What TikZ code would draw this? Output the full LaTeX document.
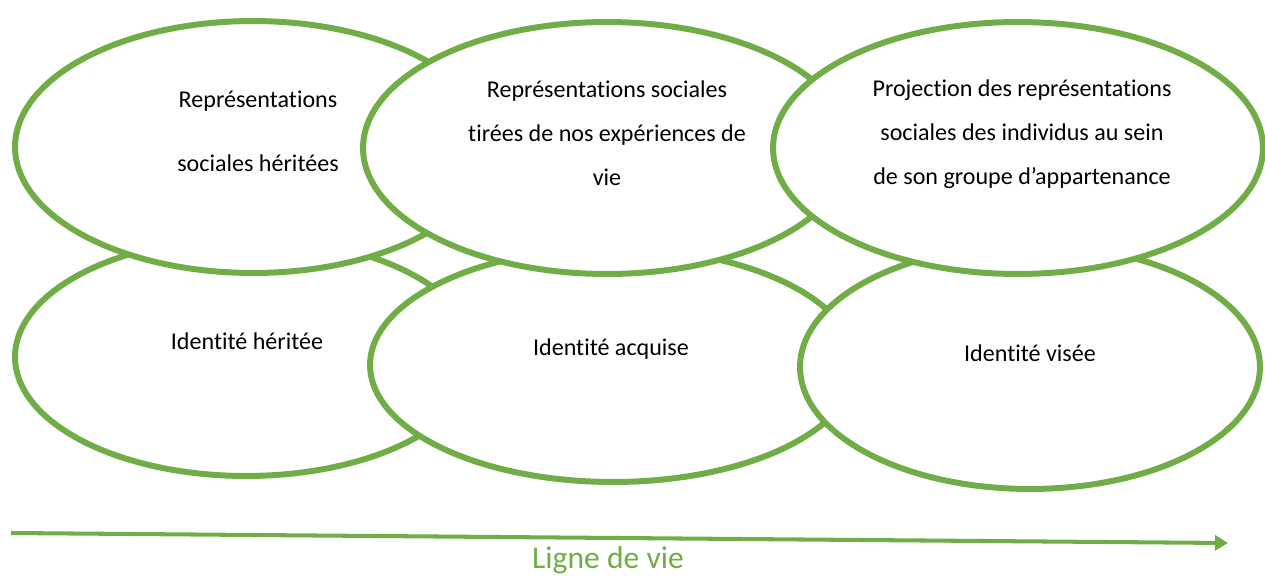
\documentclass[tikz,border=0pt]{standalone}
\usepackage{fontspec}
\setmainfont{Carlito}[Ligatures={NoCommon,NoContextual},Contextuals=NoAlternate]
\usetikzlibrary{shapes.geometric,arrows.meta}
\definecolor{vert}{HTML}{70AD47}

\begin{document}
\begin{tikzpicture}[x=0.02cm,y=-0.02cm]
	\tikzstyle{bulle}=[ellipse,draw=vert,fill=white,line width=3.4pt,inner sep=0pt]
	\tikzstyle{texte}=[align=center,font=\fontsize{13.7}{25}\selectfont,inner sep=0pt]
	\useasboundingbox (0,0) rectangle (1265,575);
	\node [bulle,minimum width=9.24cm,minimum height=4.76cm] (idHer) at (246,357) {};
	\node [bulle,minimum width=9.72cm,minimum height=4.68cm] (idAcq) at (613,365) {};
	\node [bulle,minimum width=9.20cm,minimum height=4.88cm] (idVis) at (1030,367) {};
	\node [bulle,minimum width=9.52cm,minimum height=5.04cm] (repHer) at (253,147) {};
	\node [bulle,minimum width=9.76cm,minimum height=5.04cm] (repExp) at (607,148) {};
	\node [bulle,minimum width=9.80cm,minimum height=5.04cm] (repProj) at (1018,148) {};
	\node [texte] (tRepHer) at (258,131) {Représentations\\[11.3pt] sociales héritées};
	\node [texte] (tRepExp) at (607,133) {Représentations sociales\\ tirées de nos expériences de\\ vie};
	\node [texte] (tRepProj) at (1022,134) {Projection des représentations\\ sociales des individus au sein\\ de son groupe d’appartenance};
	\node [texte] (tIdHer) at (247,341) {Identité héritée};
	\node [texte] (tIdAcq) at (611,349) {Identité acquise};
	\node [texte] (tIdVis) at (1030,353) {Identité visée};
	\coordinate (debut) at (11,533);
	\coordinate (fin) at (1228,543);
	\draw [vert,line width=2.3pt,-{Triangle[length=0.26cm,width=0.3cm]}] (debut) -- (fin);
	\node [text=vert,font=\fontsize{18}{22}\selectfont,inner sep=0pt] (ligne) at (608,560) {Ligne de vie};
\end{tikzpicture}
\end{document}
